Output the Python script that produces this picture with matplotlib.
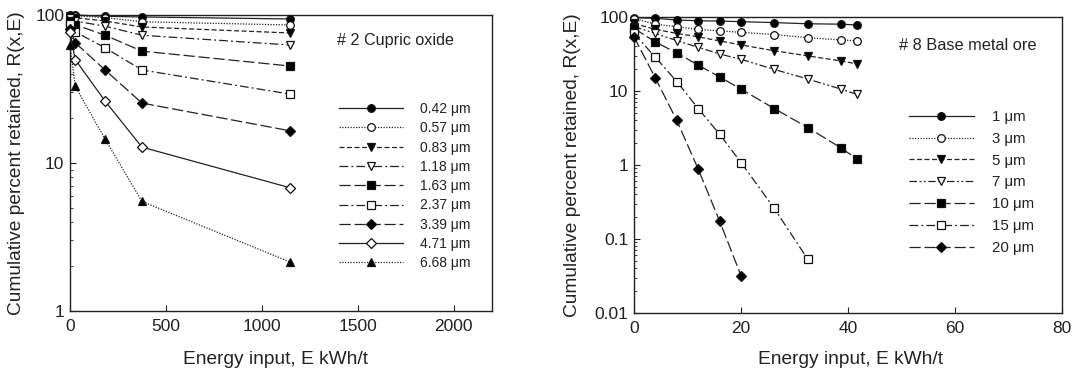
import matplotlib
matplotlib.use("Agg")
import matplotlib.pyplot as plt
from matplotlib.ticker import FixedLocator, LogLocator, NullFormatter, FuncFormatter

plt.rcParams['font.family'] = ['Liberation Sans', 'DejaVu Sans']

# ---- Left panel: #2 Cupric oxide ----
left_E = [0, 27, 183, 375, 1148]
left_sizes = ['0.42 \u03bcm', '0.57 \u03bcm', '0.83 \u03bcm', '1.18 \u03bcm', '1.63 \u03bcm',
              '2.37 \u03bcm', '3.39 \u03bcm', '4.71 \u03bcm', '6.68 \u03bcm']
left_R_042 = [100, 100, 98, 97, 94]
left_R_057 = [99, 99, 96, 90, 85.6]
left_R_083 = [98, 96, 91, 83, 75.6]
left_R_118 = [96, 91, 84, 73, 62.7]
left_R_163 = [91, 86, 73, 57, 45.2]
left_R_237 = [87, 77, 60, 42.5, 29.2]
left_R_339 = [80, 65, 42.5, 25.4, 16.5]
left_R_471 = [77, 50, 26.2, 12.8, 6.8]
left_R_668 = [63, 33, 14.5, 5.5, 2.14]

# ---- Right panel: #8 Base metal ore ----
right_E = [0, 4, 8, 12, 16, 20, 26.2, 32.5, 38.7, 41.7]
right_sizes = ['1 \u03bcm', '3 \u03bcm', '5 \u03bcm', '7 \u03bcm', '10 \u03bcm', '15 \u03bcm', '20 \u03bcm']
right_R_1 = [98, 96, 91, 89, 88, 86.5, 84, 81, 80, 78]
right_R_3 = [95, 80, 74, 68, 65, 62, 58, 52.5, 49, 47.5]
right_R_5 = [82, 68, 60, 54, 47.5, 42, 35, 29.8, 25.5, 23.2]
right_R_7 = [74, 60, 48, 39, 31.6, 26.8, 19.6, 14.5, 10.6, 9.0]
right_R_10 = [70, 46, 32.6, 22.4, 15.5, 10.6, 5.8, 3.2, 1.7, 1.2]
right_R_15 = [60, 28.5, 13.4, 5.8, 2.6, 1.08, 0.26, 0.053]
right_R_20 = [54, 14.9, 4.0, 0.88, 0.175, 0.032]

left_series = [left_R_042, left_R_057, left_R_083, left_R_118, left_R_163,
               left_R_237, left_R_339, left_R_471, left_R_668]
right_series = [right_R_1, right_R_3, right_R_5, right_R_7, right_R_10, right_R_15, right_R_20]

solid = '-'
dotted = (0, (1, 1.2))
dashed = (0, (4, 2))
dashdot = (0, (7, 2.5, 1.5, 2.5))
dashdotdot = (0, (6, 2, 1.5, 2, 1.5, 2))
longdash = (0, (9, 3))

left_styles = [
    (solid, 'o', 'k'), (dotted, 'o', 'w'), (dashed, 'v', 'k'), (dashdot, 'v', 'w'),
    (longdash, 's', 'k'), (dashdot, 's', 'w'), (longdash, 'D', 'k'), (solid, 'D', 'w'),
    (dotted, '^', 'k'),
]
right_styles = [
    (solid, 'o', 'k'), (dotted, 'o', 'w'), (dashed, 'v', 'k'), (dashdotdot, 'v', 'w'),
    (longdash, 's', 'k'), (dashdot, 's', 'w'), (longdash, 'D', 'k'),
]

W, H = 1076, 372
fig = plt.figure(figsize=(W / 100, H / 100), dpi=100)

def fx(px):
    return px / W

def fy(py):
    return 1 - py / H

axL = fig.add_axes([fx(70), fy(311), fx(492) - fx(70), fy(15) - fy(311)])
axR = fig.add_axes([fx(634), fy(313), fx(1062) - fx(634), fy(17) - fy(313)])

def draw(ax, E, series, labels, styles):
    handles = []
    for vals, lab, (ls, mk, fc) in zip(series, labels, styles):
        ms = 5.5 if mk != 'D' else 4.8
        h, = ax.plot(E[:len(vals)], vals, color='#222222', linestyle=ls, linewidth=0.9,
                     marker=mk, markersize=ms, markerfacecolor=fc, markeredgecolor='#111111',
                     markeredgewidth=0.9, label=lab, clip_on=False, zorder=3)
        handles.append(h)
    return handles

hL = draw(axL, left_E, left_series, left_sizes, left_styles)
hR = draw(axR, right_E, right_series, right_sizes, right_styles)

def fmt(v, pos):
    if v >= 1:
        return '%d' % round(v)
    return ('%g' % v)

for ax in (axL, axR):
    ax.set_yscale('log')
    ax.tick_params(direction='in', which='both', labelsize=12.5, color='#222222', labelcolor='#222222')
    ax.tick_params(which='major', length=4, width=0.8)
    ax.tick_params(which='minor', length=2.5, width=0.6)
    ax.yaxis.set_major_formatter(FuncFormatter(fmt))
    ax.yaxis.set_minor_formatter(NullFormatter())
    ax.yaxis.set_minor_locator(LogLocator(base=10, subs=range(2, 10)))
    for s in ax.spines.values():
        s.set_linewidth(1.0)
        s.set_color('#222222')
    ax.set_xlabel('Energy input, E kWh/t', fontsize=13.8, color='#222222')
    ax.set_ylabel('Cumulative percent retained, R(x,E)', fontsize=13.8, color='#222222')

axL.set_xlim(0, 2200)
axL.set_ylim(1, 100)
axL.xaxis.set_major_locator(FixedLocator([0, 500, 1000, 1500, 2000]))
axL.set_yticks([1, 10, 100])

axR.set_xlim(0, 80)
axR.set_ylim(0.01, 100)
axR.xaxis.set_major_locator(FixedLocator([0, 20, 40, 60, 80]))
axR.set_yticks([0.01, 0.1, 1, 10, 100])

for ax in (axL, axR):
    ax.tick_params(axis='x', pad=6)
    ax.tick_params(axis='y', pad=4)

axL.yaxis.set_label_coords(-0.106, 0.5)
axR.yaxis.set_label_coords(-0.124, 0.5)
axL.xaxis.set_label_coords(0.488, -0.135)
axR.xaxis.set_label_coords(0.505, -0.13)

fig.text(fx(337), fy(41), '# 2 Cupric oxide', fontsize=11.6, va='center', ha='left', color='#222222')
fig.text(fx(899), fy(45), '# 8 Base metal ore', fontsize=11.8, va='center', ha='left', color='#222222')

legL = fig.legend(handles=hL, loc='upper left', bbox_to_anchor=(fx(339), fy(102)),
                  frameon=False, fontsize=10, handlelength=4.6, handletextpad=1.2,
                  labelspacing=0.38, borderpad=0, borderaxespad=0, numpoints=1)
legR = fig.legend(handles=hR, loc='upper left', bbox_to_anchor=(fx(909), fy(110)),
                  frameon=False, fontsize=10.8, handlelength=4.3, handletextpad=1.2,
                  labelspacing=0.52, borderpad=0, borderaxespad=0, numpoints=1)
for leg in (legL, legR):
    for t in leg.get_texts():
        t.set_color('#222222')

fig.savefig('out.png', dpi=100)
